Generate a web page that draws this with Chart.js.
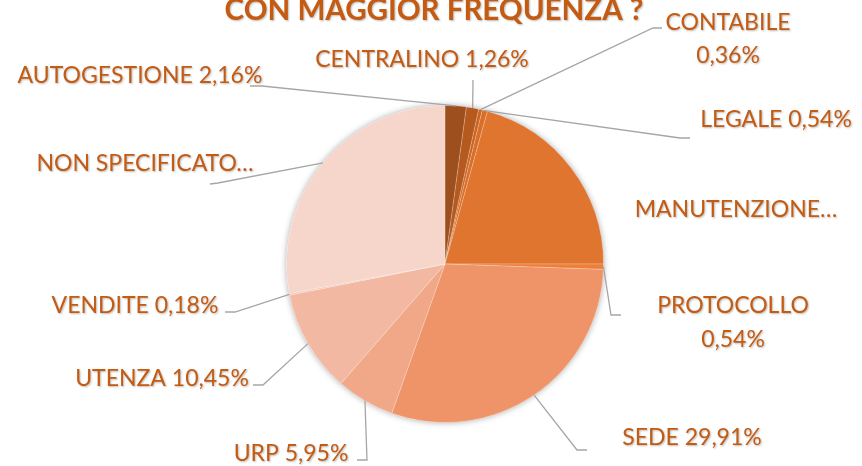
<!DOCTYPE html>
<html><head><meta charset="utf-8">
<script src="https://cdn.jsdelivr.net/npm/chart.js@4.4.1/dist/chart.umd.min.js"></script>
<style>html,body{margin:0;padding:0;background:#fff;overflow:hidden}#wrap{width:862px;height:466px;position:relative}</style>
</head><body><div id="wrap"><canvas id="c" width="862" height="466"></canvas></div>
<script>
// ---- data ----
const titleText = 'CON MAGGIOR FREQUENZA ?';
const categories = ['AUTOGESTIONE','CENTRALINO','CONTABILE','LEGALE','MANUTENZIONE','PROTOCOLLO','SEDE','URP','UTENZA','VENDITE','NON SPECIFICATO'];
const percentages = [2.16, 1.26, 0.36, 0.54, 20.68, 0.54, 29.91, 5.95, 10.45, 0.18, 27.97];

// ---- styles ----
const sliceColors = ['#9E4F1E','#B5591F','#C8641F','#D86E28','#E07530','#EE7F3A','#EF9468','#F0A888','#F3B8A2','#F5C7B6','#F6D5CA'];
const textColor = '#C55A11';
const leaderColor = '#A6A6A6';
const labelFont = '23px Lato';
const titleFont = 'bold 29.5px Lato';

// ---- label layout (text position + leader elbows), styles only ----
// mode: 'one' = name + pct on one line, 'two' = name / pct, 'cut' = truncated name
const labelLayout = [
  {mode:'one', x:140, y:83,  elbow:[[262,86],[250,86]]},
  {mode:'one', x:422, y:67,  elbow:[[473,80]]},
  {mode:'two', x:728, y:30,  dy:33, elbow:[[653,28],[662,28]]},
  {mode:'one', x:776, y:127, elbow:[[680,138],[690,138]]},
  {mode:'cut', x:736, y:217, elbow:null},
  {mode:'two', x:733, y:313, dy:34, elbow:[[611,315],[621,315]]},
  {mode:'one', x:692, y:445, elbow:[[577,450],[587,450]]},
  {mode:'one', x:291, y:461, elbow:[[367,460],[357,460]]},
  {mode:'one', x:162, y:386, elbow:[[263,385],[253,385]]},
  {mode:'one', x:135, y:313, elbow:[[235,312],[225,312]]},
  {mode:'cut', x:145, y:171, elbow:[[218,183],[210,184]]}
];

const fmt = v => v.toFixed(2).replace('.', ',') + '%';

const shadowPlugin = {
  id: 'pieShadow',
  beforeDatasetsDraw(chart) {
    const arc = chart.getDatasetMeta(0).data[0];
    if (!arc) return;
    const p = arc.getProps(['x','y','outerRadius'], true);
    const ctx = chart.ctx;
    ctx.save();
    ctx.shadowColor = 'rgba(0,0,0,0.35)';
    ctx.shadowBlur = 6;
    ctx.fillStyle = '#ffffff';
    ctx.beginPath();
    ctx.arc(p.x, p.y, p.outerRadius, 0, Math.PI * 2);
    ctx.fill();
    ctx.restore();
  }
};

const labelPlugin = {
  id: 'pieLabels',
  afterDatasetsDraw(chart) {
    const ctx = chart.ctx;
    const meta = chart.getDatasetMeta(0);
    ctx.save();
    meta.data.forEach((arc, i) => {
      const L = labelLayout[i];
      if (!L.elbow) return;
      const p = arc.getProps(['x','y','startAngle','endAngle','outerRadius'], true);
      const mid = (p.startAngle + p.endAngle) / 2;
      const sx = p.x + Math.cos(mid) * p.outerRadius;
      const sy = p.y + Math.sin(mid) * p.outerRadius;
      ctx.strokeStyle = leaderColor;
      ctx.lineWidth = 1.3;
      ctx.beginPath();
      ctx.moveTo(sx, sy);
      L.elbow.forEach(pt => ctx.lineTo(pt[0], pt[1]));
      ctx.stroke();
    });
    // text with soft shadow
    ctx.shadowColor = 'rgba(0,0,0,0.28)';
    ctx.shadowBlur = 2;
    ctx.shadowOffsetX = 1;
    ctx.shadowOffsetY = 1;
    ctx.fillStyle = textColor;
    ctx.textAlign = 'center';
    ctx.textBaseline = 'alphabetic';
    ctx.font = titleFont;
    ctx.fillText(titleText, 434, 20);
    ctx.font = labelFont;
    meta.data.forEach((arc, i) => {
      const L = labelLayout[i];
      const name = categories[i];
      const pct = fmt(percentages[i]);
      if (L.mode === 'one') {
        ctx.fillText(name + ' ' + pct, L.x, L.y);
      } else if (L.mode === 'two') {
        ctx.fillText(name, L.x, L.y);
        ctx.fillText(pct, L.x, L.y + L.dy);
      } else {
        ctx.fillText(name + '\u2026', L.x, L.y);
      }
    });
    ctx.restore();
  }
};

new Chart(document.getElementById('c'), {
  type: 'pie',
  data: {
    labels: categories,
    datasets: [{
      data: percentages,
      backgroundColor: sliceColors,
      borderColor: 'rgba(255,255,255,0.2)',
      borderWidth: 1
    }]
  },
  options: {
    responsive: false,
    devicePixelRatio: 1,
    animation: false,
    events: [],
    layout: { padding: { left: 200, right: 172, top: 105, bottom: 43 } },
    plugins: { legend: { display: false }, tooltip: { enabled: false }, title: { display: false } }
  },
  plugins: [shadowPlugin, labelPlugin]
});
</script>
</body></html>
